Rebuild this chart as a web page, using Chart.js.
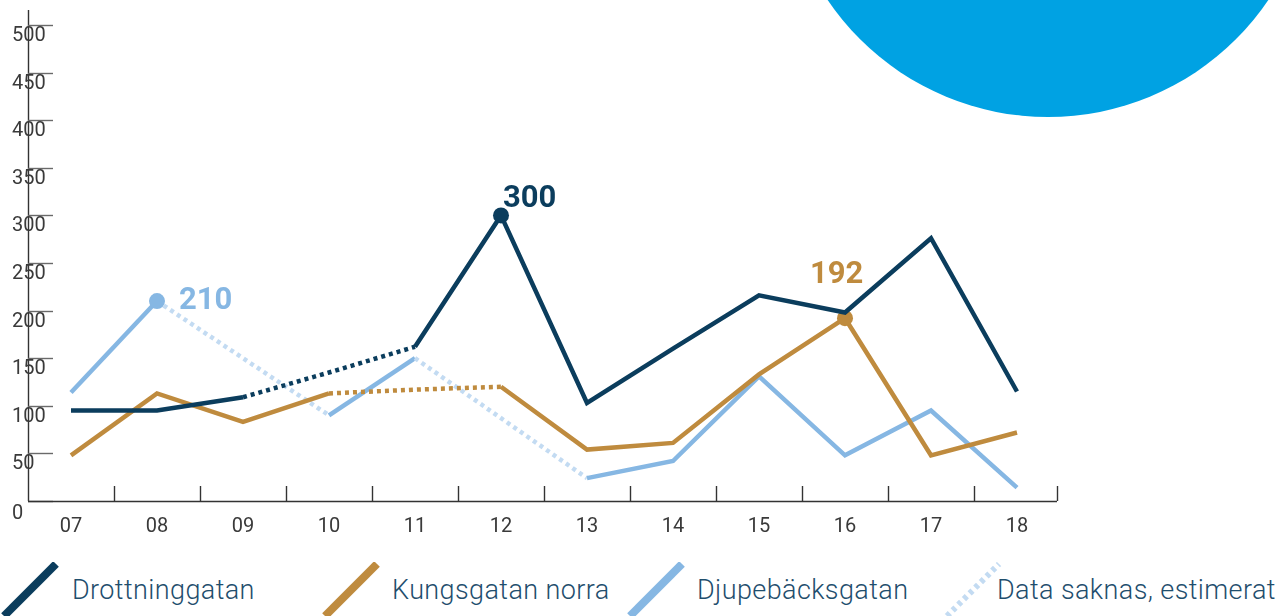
<!DOCTYPE html>
<html>
<head>
<meta charset="utf-8">
<script src="https://cdn.jsdelivr.net/npm/chart.js@4.4.1/dist/chart.umd.min.js"></script>
<style>
  body { margin: 0; background: #fff; }
  #wrap { position: relative; width: 1283px; height: 616px; overflow: hidden; font-family: Roboto, sans-serif; }
  #circle { position: absolute; left: 782px; top: -415px; width: 532px; height: 532px; border-radius: 50%; background: #00a2e3; }
  #chart { position: absolute; left: 0; top: 0; }
  .lg-icon { position: absolute; top: 562px; }
  .lg-text { position: absolute; top: 574px; font-size: 27px; font-weight: 300; letter-spacing: 0.4px; color: #1f4e6d; white-space: nowrap; }
</style>
</head>
<body>
<div id="wrap">
  <div id="circle"></div>
  <canvas id="chart" width="1283" height="545"></canvas>
  <div id="legend"></div>
</div>
<script>
(function () {
  const YEARS = ["07", "08", "09", "10", "11", "12", "13", "14", "15", "16", "17", "18"];
  const Y_TICKS = [0, 50, 100, 150, 200, 250, 300, 350, 400, 450, 500];

  const DROTTNING = [95, 95, 109, 135, 162, 300, 103, 160, 216, 198, 276, 115];
  const KUNGS = [48, 113, 83, 113, 117, 120, 54, 61, 133, 192, 48, 72];
  const DJUPE = [114, 210, 150, 90, 150, 87, 24, 42, 131, 48, 95, 14];

  // indexes where the value is estimated (drawn dotted)
  const DROTTNING_EST = [3];
  const KUNGS_EST = [4];
  const DJUPE_EST = [2, 5];

  // highlighted value per series
  const DROTTNING_MARK = 5;
  const KUNGS_MARK = 9;
  const DJUPE_MARK = 1;

  const NAVY = "#0b3d5d";
  const BROWN = "#bf8b3e";
  const LIGHT = "#86b7e3";
  const LIGHT_EST = "#c3dbf2";

  const $ = (id) => document.getElementById(id);

  function series(label, data, est, mark, color, estColor, labelOffset) {
    const isEst = (ctx) => est.includes(ctx.p0DataIndex) || est.includes(ctx.p1DataIndex);
    return {
      label,
      data,
      borderColor: color,
      backgroundColor: color,
      borderWidth: 4.5,
      borderJoinStyle: "miter",
      borderCapStyle: "butt",
      tension: 0,
      pointRadius: (c) => (c.dataIndex === mark ? 8 : 0),
      pointHoverRadius: (c) => (c.dataIndex === mark ? 8 : 0),
      pointBackgroundColor: color,
      pointBorderWidth: 0,
      segment: {
        borderDash: (ctx) => (isEst(ctx) ? [4, 4] : undefined),
        borderColor: (ctx) => (isEst(ctx) ? estColor : color)
      },
      mark,
      labelOffset
    };
  }

  const axesPlugin = {
    id: "axes",
    beforeDatasetsDraw(chart) {
      const { ctx, chartArea: a, scales } = chart;
      const y = scales.y;
      const axisEnd = 1057;
      ctx.save();
      ctx.font = "400 20px Roboto";
      ctx.fillStyle = "#3a3a3a";
      ctx.textBaseline = "middle";

      // y axis
      ctx.strokeStyle = "#333";
      ctx.lineWidth = 1.4;
      ctx.beginPath();
      ctx.moveTo(a.left + 0.5, 10);
      ctx.lineTo(a.left + 0.5, a.bottom);
      ctx.stroke();

      ctx.strokeStyle = "#6a6a6a";
      Y_TICKS.forEach((v) => {
        const py = Math.round(y.getPixelForValue(v)) + 0.5;
        ctx.beginPath();
        ctx.moveTo(a.left, py);
        ctx.lineTo(a.left + 25, py);
        ctx.stroke();
        ctx.textAlign = "left";
        ctx.fillText(String(v), 12, py + (v === 0 ? 12 : 10));
      });

      // x axis
      ctx.strokeStyle = "#333";
      ctx.beginPath();
      ctx.moveTo(a.left, a.bottom + 0.5);
      ctx.lineTo(axisEnd, a.bottom + 0.5);
      ctx.stroke();

      const step = (a.right - a.left) / YEARS.length;
      for (let i = 1; i <= YEARS.length; i++) {
        const bx = Math.min(Math.round(a.left + i * step), axisEnd) + 0.5;
        ctx.beginPath();
        ctx.moveTo(bx, a.bottom - 15);
        ctx.lineTo(bx, a.bottom);
        ctx.stroke();
      }
      ctx.textAlign = "center";
      YEARS.forEach((lab, i) => {
        ctx.fillText(lab, scales.x.getPixelForValue(i), a.bottom + 26);
      });
      ctx.restore();
    },
    afterDatasetsDraw(chart) {
      const { ctx } = chart;
      ctx.save();
      ctx.font = "700 31px Roboto";
      ctx.textBaseline = "middle";
      ctx.textAlign = "left";
      chart.data.datasets.forEach((ds, di) => {
        const pt = chart.getDatasetMeta(di).data[ds.mark];
        ctx.fillStyle = ds.borderColor;
        ctx.fillText(String(ds.data[ds.mark]), pt.x + ds.labelOffset[0], pt.y + ds.labelOffset[1]);
      });
      ctx.restore();
    }
  };

  new Chart($("chart"), {
    type: "line",
    data: {
      labels: YEARS,
      datasets: [
        series("Drottninggatan", DROTTNING, DROTTNING_EST, DROTTNING_MARK, NAVY, NAVY, [2, -16]),
        series("Kungsgatan norra", KUNGS, KUNGS_EST, KUNGS_MARK, BROWN, BROWN, [-35, -43]),
        series("Djupebäcksgatan", DJUPE, DJUPE_EST, DJUPE_MARK, LIGHT, LIGHT_EST, [22, 0])
      ]
    },
    options: {
      responsive: false,
      animation: false,
      layout: { padding: { left: 28, right: 223, top: 25, bottom: 44 } },
      plugins: { legend: { display: false }, tooltip: { enabled: false } },
      scales: {
        x: { display: false, offset: true },
        y: { display: false, min: 0, max: 500 }
      }
    },
    plugins: [axesPlugin]
  });

  // legend
  const LEGEND = [
    { text: "Drottninggatan", color: NAVY, dash: false, icon: 0, label: 72 },
    { text: "Kungsgatan norra", color: BROWN, dash: false, icon: 321, label: 392 },
    { text: "Djupebäcksgatan", color: LIGHT, dash: false, icon: 626, label: 697 },
    { text: "Data saknas, estimerat", color: LIGHT_EST, dash: true, icon: 943, label: 997 }
  ];
  $("legend").innerHTML = LEGEND.map((l) => `
    <svg class="lg-icon" style="left:${l.icon}px" width="60" height="56">
      <line x1="4" y1="54" x2="56" y2="2" stroke="${l.color}" stroke-width="${l.dash ? 6 : 8}"
        ${l.dash ? 'stroke-dasharray="4 4"' : ""} />
    </svg>
    <div class="lg-text" style="left:${l.label}px">${l.text}</div>`).join("");
})();
</script>
</body>
</html>
